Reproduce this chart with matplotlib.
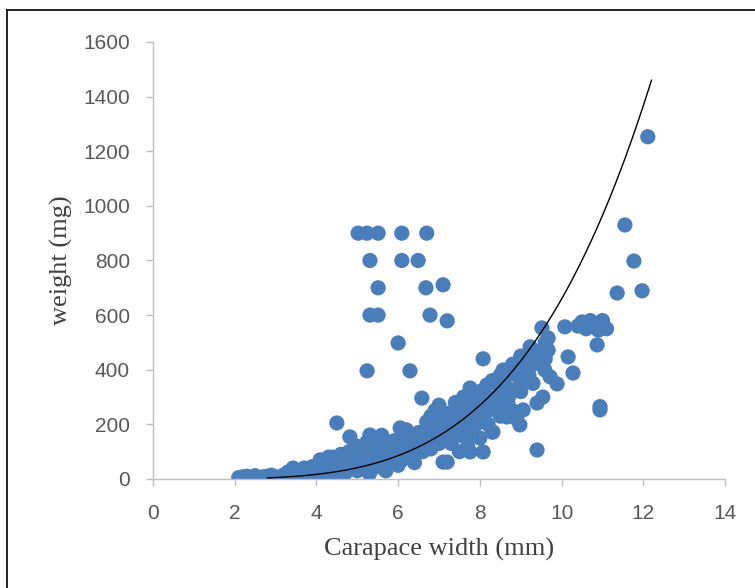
import numpy as np
import matplotlib.pyplot as plt
from matplotlib.lines import Line2D

# carapace width (mm) and weight (mg)
cw = [2.1, 2.13, 2.2, 2.2, 2.3, 2.3, 2.4, 2.5, 2.5, 2.6, 2.7, 2.7, 2.8, 2.8, 2.9, 2.9, 3.0, 3.0,
      3.1, 3.2, 3.3, 3.3, 3.43, 3.4, 3.5, 3.5, 3.6, 3.7, 3.7, 3.8, 3.9, 3.9, 4.0, 4.0, 4.09,
      4.1, 4.1, 4.2, 4.3, 4.3, 4.4, 4.4, 4.5, 4.5, 4.6, 4.6, 4.7, 4.7, 4.8, 4.82, 4.9, 4.9,
      5.0, 5.0, 5.0,
      5.1, 5.1, 5.24, 5.2, 5.31, 5.3, 5.3, 5.4, 5.4, 5.5, 5.5, 5.6, 5.6, 5.7, 5.7, 5.8, 5.8,
      5.9, 5.9, 6.05, 6.0, 6.0,
      6.1, 6.1, 6.2, 6.2, 6.3, 6.3, 6.4, 6.4, 6.5, 6.5, 6.7, 6.6, 6.7, 6.7, 6.8, 6.8, 6.8,
      6.9, 6.9, 7.0, 7.0, 7.0, 7.1, 7.1, 7.2, 7.2,
      7.2, 7.3, 7.3, 7.4, 7.4, 7.5, 7.5, 7.5, 7.6, 7.6, 7.7, 7.7, 7.76, 7.8, 7.76, 7.9, 7.9,
      8.0, 8.0, 8.0,
      8.17, 8.1, 8.2, 8.2, 8.3, 8.3, 8.42, 8.4, 8.5, 8.5, 8.57, 8.66, 8.66, 8.7, 8.74, 8.8,
      8.8, 8.9, 8.9, 9.0, 8.98, 9.0, 8.32,
      9.15, 9.06, 9.23, 9.06, 9.3, 9.3, 9.4, 9.4, 9.47, 9.52, 9.5, 9.59, 9.54, 9.67, 9.72,
      9.67, 9.89, 9.6,
      10.08, 10.16, 10.28, 10.4, 10.5, 10.6, 10.7, 10.8, 10.9, 11.0, 11.1, 10.87, 10.94, 10.94,
      11.36, 11.55, 11.77, 11.97, 12.11,
      # extra points filling the dense band
      6.3, 6.6, 6.9, 7.1, 7.3, 7.4, 7.6, 7.7, 7.9, 8.1, 8.2, 8.4, 8.5, 8.6, 8.7, 8.9, 9.1,
      9.2, 9.3, 9.6, 5.6, 5.2, 4.7, 4.4, 3.8, 3.6, 3.2, 2.4]
weight = [5, 0, 3, 8, 2, 10, 4, 6, 12, 3, 8, 2, 10, 5, 3, 14, 8, 2,
          5, 15, 25, 3, 40, 10, 30, 5, 18, 40, 8, 25, 12, 45, 30, 5, 70,
          20, 60, 45, 10, 80, 35, 80, 55, 15, 90, 40, 65, 20, 100, 154, 50, 85,
          30, 120, 70,
          90, 40, 136, 60, 161, 110, 20, 143, 75, 100, 45, 130, 70, 90, 30, 115, 55,
          140, 80, 187, 100, 50,
          160, 70, 180, 120, 90, 150, 110, 60, 170, 130, 209, 100, 190, 140, 230, 160, 110,
          250, 180, 200, 130, 270, 62, 220, 62, 170,
          240, 190, 130, 280, 210, 160, 250, 100, 300, 220, 180, 120, 333, 260, 99, 290, 200,
          320, 240, 150,
          344, 280, 300, 200, 172, 360, 352, 260, 380, 230, 399, 392, 227, 300, 326, 420,
          250, 380, 220, 450, 198, 320, 172,
          363, 443, 484, 253, 420, 350, 106, 278, 425, 553, 470, 399, 300, 516, 374,
          472, 348, 440,
          557, 447, 388, 560, 575, 550, 580, 570, 545, 580, 550, 491, 253, 265,
          681, 930, 798, 689, 1253,
          120, 160, 140, 180, 240, 170, 260, 150, 240, 300, 250, 290, 330, 350, 270, 330, 400,
          380, 460, 500, 160, 90, 40, 20, 10, 8, 12, 0]

# outliers above the main cloud
out_cw = [5.02, 5.24, 5.51, 6.09, 6.70, 5.31, 6.09, 6.49, 5.51, 6.68, 7.10,
          5.31, 5.51, 6.78, 7.20, 6.0, 5.24, 6.29, 6.58, 8.08, 8.08, 4.5]
out_w = [900, 900, 900, 900, 900, 800, 800, 800, 700, 700, 711,
         600, 600, 600, 579, 498, 396, 396, 296, 440, 99, 205]

# power trendline  W = a * CW^b
fit_a, fit_b = 0.0659, 4.0
fit_range = (2.8, 12.2)

fig = plt.figure(figsize=(7.55, 5.88), dpi=100)
ax = fig.add_axes([0.2026, 0.1854, 0.7577, 0.7432])

blue = '#4a7ebb'
ax.scatter(cw + out_cw, weight + out_w, s=120, color=blue, edgecolors='none', zorder=2)

xf = np.linspace(fit_range[0], fit_range[1], 200)
ax.plot(xf, fit_a * xf ** fit_b, color='black', lw=1.0, zorder=3)

ax.set_xlim(0, 14)
ax.set_ylim(0, 1600)
ax.set_xticks(range(0, 15, 2))
ax.set_yticks(range(0, 1601, 200))

for s in ['top', 'right']:
    ax.spines[s].set_visible(False)
for s in ['left', 'bottom']:
    ax.spines[s].set_color('#bfbfbf')
    ax.spines[s].set_linewidth(1.0)

ax.tick_params(axis='both', colors='#bfbfbf', length=5, width=1.0,
               labelcolor='#595959', labelsize=15)
ax.tick_params(axis='x', pad=13)
ax.tick_params(axis='y', pad=11.5)
for lab in ax.get_xticklabels() + ax.get_yticklabels():
    lab.set_family('Liberation Sans')

ax.set_xlabel('Carapace width (mm)', family='Liberation Serif', fontsize=19,
              color='#404040', labelpad=11)
ax.set_ylabel('weight (mg)', family='Liberation Serif', fontsize=19,
              color='#404040', labelpad=7)

# black frame round the chart (right and bottom edges fall outside the picture)
fig.add_artist(Line2D([7 / 755, 7 / 755], [0, 1 - 10 / 588], color='black', lw=1.2))
fig.add_artist(Line2D([7 / 755, 1], [1 - 10 / 588, 1 - 10 / 588], color='black', lw=1.2))

fig.savefig('out.png', dpi=100)
